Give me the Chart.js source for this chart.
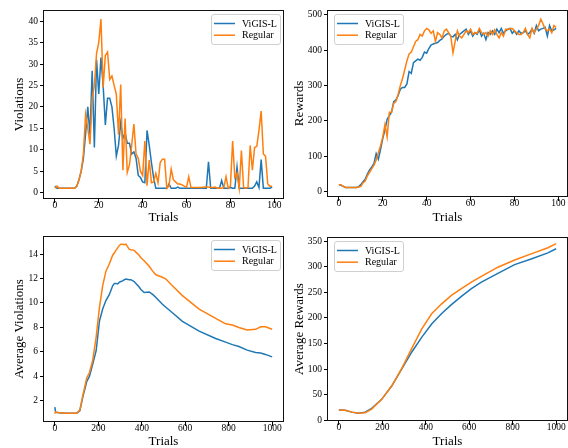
<!DOCTYPE html>
<html>
<head>
<meta charset="utf-8">
<script src="https://cdn.jsdelivr.net/npm/chart.js@4"></script>
<style>
  html, body { margin: 0; padding: 0; background: #fff; }
  #wrap { position: relative; width: 568px; height: 448px; overflow: hidden; }
  .panel { position: absolute; width: 284px; height: 224px; }
</style>
</head>
<body>
<div id="wrap">
  <div class="panel" style="left:0;top:0"><canvas id="c1" width="284" height="224"></canvas></div>
  <div class="panel" style="left:284px;top:0"><canvas id="c2" width="284" height="224"></canvas></div>
  <div class="panel" style="left:0;top:224px"><canvas id="c3" width="284" height="224"></canvas></div>
  <div class="panel" style="left:284px;top:224px"><canvas id="c4" width="284" height="224"></canvas></div>
</div>
<script>
// ---------------- DATA ----------------
const seriesNames = ['ViGIS-L', 'Regular'];

// Panel 1: Violations per trial (trials 0..99)
const violationsViGIS = [
  1.5,1,1,1,1,1,1,1,1,1,
  1.5,3,5,8,13.7,20,13.5,28.4,10.5,31,
  23,31.5,25,15.8,22,22,20,15,8.5,11,
  16.3,12.7,13.8,11.5,11.5,9,9.5,8,4,3.5,
  2.5,2.3,14.5,11,7,3.5,1,1,1,1,
  1,1,2,1,1,1,1.3,1,1,1,
  1,1,1,1,1,1,1,1,1,1,
  7.2,1,1,1,1,1,2.8,1,1,1,
  1.2,1,1,6,1,1,1,1,1,1,
  1,1.5,2.5,1.2,7.7,1,1,1,1,1.3
];
const violationsRegular = [
  1,1.5,1,1,1,1,1,1,1,1,
  1.5,3,5,9,18.2,15,11.3,22,25,32.5,
  35,40.5,24.5,32,32.8,26.4,27.2,25,23,13.5,
  25.2,5.2,17.3,4.7,6.5,11,16,9,8,5,
  4,12,1.6,7.6,2.3,2.5,4.5,2.3,7,7.8,
  7.8,1,1.5,5.5,3,2.5,2,2,1.8,1.5,
  1.2,3.7,1.2,1.2,1.2,1.2,1.2,1.2,1.3,1.3,
  1.3,1.2,1.2,1.3,1,1,1,1.2,3.7,1,
  1.5,12,3.5,4.5,1,9.8,1.2,1,1.2,11,
  5.2,10.5,10.8,14.5,19,9,8.5,2,1.5,1.5
];

// Panel 2: Rewards per trial (trials 0..99)
const rewardsViGIS = [
  20,18,15,12,12,12,12,12,12,14,
  20,28,35,50,62,70,80,108,92,120,
  150,175,205,215,225,255,260,272,290,295,
  295,305,340,335,365,370,375,372,380,395,
  392,405,415,418,420,422,428,432,440,445,
  448,440,438,445,430,445,450,455,460,445,
  455,440,450,445,458,440,448,430,450,445,
  455,445,460,450,462,448,455,460,462,448,
  455,445,455,448,450,455,445,450,460,448,
  470,455,460,462,465,440,470,455,458,462
];
const rewardsRegular = [
  20,20,15,12,12,12,12,12,12,13,
  15,25,30,45,55,65,75,90,110,130,
  155,190,155,225,225,250,255,275,300,320,
  345,370,390,395,410,425,430,445,440,455,
  462,458,448,455,425,450,445,435,455,460,
  450,440,393,425,455,440,435,445,455,450,
  460,445,450,448,462,450,445,450,440,455,
  445,458,445,435,450,440,460,458,462,462,
  455,450,445,445,450,462,445,435,462,450,
  460,470,488,475,460,455,460,450,470,465
];

// Panel 3: Average violations (read at these trials)
const avgVioTrials = [0,3,10,50,100,115,128,147,159,174,190,205,220,235,251,266,274,281,289,297,304,312,320,327,342,350,365,373,388,396,411,434,450,465,495,511,541,587,664,740,786,817,847,885,924,947,969,1000];
const avgVioViGIS  = [1.5,1.1,1.05,1.0,1.0,1.2,2.27,3.6,4.0,5.0,6.1,8.5,9.5,10.2,10.7,11.4,11.6,11.6,11.55,11.7,11.75,11.8,11.9,11.95,11.9,11.9,11.75,11.6,11.3,11.1,10.86,10.9,10.7,10.45,9.9,9.65,9.2,8.5,7.7,7.1,6.8,6.6,6.45,6.15,5.95,5.92,5.8,5.6];
const avgVioRegular= [0.96,1.1,1.05,1.0,1.0,1.25,2.4,3.9,4.3,5.3,7.2,9.6,11.4,12.6,13.2,13.9,14.1,14.3,14.5,14.7,14.8,14.8,14.75,14.8,14.4,14.35,14.3,14.15,13.9,13.7,13.45,13.0,12.6,12.3,12.1,11.95,11.4,10.6,9.5,8.75,8.3,8.2,8.0,7.8,7.85,8.05,8.05,7.85];

// Panel 4: Average rewards (read at these trials)
const avgRewTrials = [0,29,60,90,121,151,197,243,289,335,381,427,472,518,564,610,656,732,809,885,962,1000];
const avgRewViGIS  = [20,19.6,16,14,16,23.5,41,67,100,133,162,188,208,226,242,257,270,287,304,315,327,335];
const avgRewRegular= [20,19.6,16,14,15,22,41,67,101,140,178,208,227,244,257,270,281,299,313,325,337,345];

// Tick labels
const ticksTrials100  = [0,20,40,60,80,100];
const ticksTrials1000 = [0,200,400,600,800,1000];
const ticksViolations = [0,5,10,15,20,25,30,35,40];
const ticksRewards    = [0,100,200,300,400,500];
const ticksAvgVio     = [2,4,6,8,10,12,14];
const ticksAvgRew     = [0,50,100,150,200,250,300,350];

// ---------------- STYLE / HELPERS ----------------
const BLUE = '#1f77b4', ORANGE = '#ff7f0e';
const SERIF = "'Liberation Serif', 'Times New Roman', serif";

const framePlugin = {
  id: 'frame',
  afterDatasetsDraw(chart) {
    const a = chart.chartArea, ctx = chart.ctx;
    ctx.save();
    ctx.strokeStyle = '#111';
    ctx.lineWidth = 1;
    ctx.strokeRect(Math.round(a.left) - 0.5, Math.round(a.top) + 0.5,
                   Math.round(a.right - a.left) + 1, Math.round(a.bottom - a.top) - 1);
    ctx.restore();
  }
};

const boxLegend = {
  id: 'boxLegend',
  afterDraw(chart, args, opts) {
    const ctx = chart.ctx, a = chart.chartArea;
    const w = 69, h = 30;
    const x = opts.side === 'left' ? a.left + 6 : a.right - 3 - w;
    const y = a.top + 4;
    ctx.save();
    ctx.beginPath();
    ctx.roundRect(x + 0.5, y + 0.5, w, h, 2.5);
    ctx.fillStyle = 'rgba(255,255,255,0.85)';
    ctx.fill();
    ctx.strokeStyle = '#d0d0d0';
    ctx.lineWidth = 1;
    ctx.stroke();
    ctx.font = "10px " + SERIF;
    ctx.textBaseline = 'middle';
    ctx.fillStyle = '#000';
    chart.data.datasets.forEach((ds, i) => {
      const ry = y + 9.5 + i * 11.7;
      ctx.beginPath();
      ctx.moveTo(x + 3, ry);
      ctx.lineTo(x + 24, ry);
      ctx.strokeStyle = ds.borderColor;
      ctx.lineWidth = 1.5;
      ctx.stroke();
      ctx.fillText(ds.label, x + 31, ry + 0.5);
    });
    ctx.restore();
  }
};

function pts(xs, ys) { return ys.map((v, i) => ({ x: xs ? xs[i] : i, y: v })); }

function makeChart(id, o) {
  const tickFont = { family: SERIF, size: 9.5 };
  const titleFont = { family: SERIF, size: 13, lineHeight: 1 };
  return new Chart(document.getElementById(id), {
    type: 'line',
    data: {
      datasets: [
        { label: seriesNames[0], data: o.blue, borderColor: BLUE, borderWidth: 1.5, pointRadius: 0, tension: 0, order: 1 },
        { label: seriesNames[1], data: o.orange, borderColor: ORANGE, borderWidth: 1.5, pointRadius: 0, tension: 0, order: 0 }
      ]
    },
    options: {
      responsive: false,
      devicePixelRatio: 1,
      animation: false,
      events: [],
      layout: { padding: { top: o.top, right: 1, left: 0, bottom: 0 } },
      plugins: { legend: { display: false }, tooltip: { enabled: false }, boxLegend: { side: o.legendSide } },
      scales: {
        x: {
          type: 'linear', min: o.xmin, max: o.xmax,
          afterFit(s) { s.height = o.xh; },
          afterBuildTicks(s) { s.ticks = o.xticks.map(v => ({ value: v })); },
          grid: { drawOnChartArea: false, drawTicks: true, tickLength: 4, color: '#000', lineWidth: 1 },
          border: { display: false },
          ticks: { font: tickFont, color: '#000', padding: -3, maxRotation: 0, autoSkip: false,
                   callback: v => String(v) },
          title: { display: true, text: 'Trials', font: titleFont, color: '#000', padding: { top: 0, bottom: 0 } }
        },
        y: {
          type: 'linear', min: o.ymin, max: o.ymax,
          afterFit(s) { s.width = 44; },
          afterBuildTicks(s) { s.ticks = o.yticks.map(v => ({ value: v })); },
          grid: { drawOnChartArea: false, drawTicks: true, tickLength: 4, color: '#000', lineWidth: 1 },
          border: { display: false },
          ticks: { font: tickFont, color: '#000', padding: 2, autoSkip: false, callback: v => String(v) },
          title: { display: true, text: o.ytitle, font: titleFont, color: '#000', padding: { top: o.ytp, bottom: 0 } }
        }
      }
    },
    plugins: [framePlugin, boxLegend]
  });
}

makeChart('c1', {
  blue: pts(null, violationsViGIS), orange: pts(null, violationsRegular),
  xmin: -4.95, xmax: 103.95, xticks: ticksTrials100,
  ymin: -1.5, ymax: 42.6, yticks: ticksViolations, ytitle: 'Violations', ytp: 13.5,
  top: 10, xh: 25, legendSide: 'right'
});
makeChart('c2', {
  blue: pts(null, rewardsViGIS), orange: pts(null, rewardsRegular),
  xmin: -4.95, xmax: 103.95, xticks: ticksTrials100,
  ymin: -15, ymax: 514, yticks: ticksRewards, ytitle: 'Rewards', ytp: 9.5,
  top: 10, xh: 27, legendSide: 'left'
});
makeChart('c3', {
  blue: pts(avgVioTrials, avgVioViGIS), orange: pts(avgVioTrials, avgVioRegular),
  xmin: -50, xmax: 1050, xticks: ticksTrials1000,
  ymin: 0.28, ymax: 15.47, yticks: ticksAvgVio, ytitle: 'Average Violations', ytp: 13.5,
  top: 12, xh: 26, legendSide: 'right'
});
makeChart('c4', {
  blue: pts(avgRewTrials, avgRewViGIS), orange: pts(avgRewTrials, avgRewRegular),
  xmin: -50, xmax: 1050, xticks: ticksTrials1000,
  ymin: -1.3, ymax: 358, yticks: ticksAvgRew, ytitle: 'Average Rewards', ytp: 9.5,
  top: 13, xh: 27, legendSide: 'left'
});
</script>
</body>
</html>
